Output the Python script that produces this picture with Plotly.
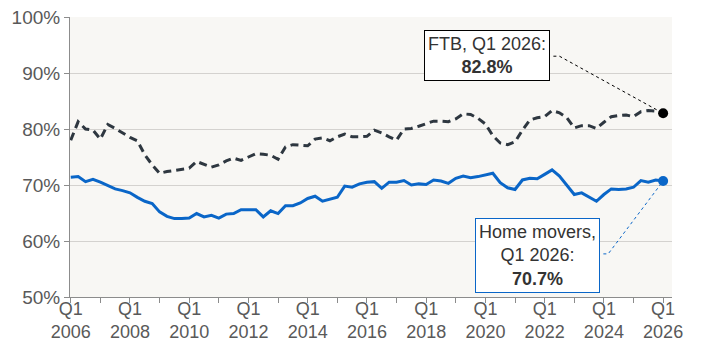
import plotly.graph_objects as go

quarters = list(range(81))  # Q1 2006 .. Q1 2026
tick_pos = list(range(0, 81, 8))
tick_labels = ["Q1<br>%d" % y for y in range(2006, 2027, 2)]

ftb = [78.0, 81.3, 80.0, 79.8, 78.2, 80.8, 80.1, 79.3, 78.5, 77.9,
       75.4, 73.6, 72.1, 72.4, 72.6, 72.7, 73.0, 74.2, 73.7, 73.2,
       73.6, 74.3, 74.8, 74.4, 75.0, 75.6, 75.5, 75.3, 74.6, 76.8,
       77.2, 77.1, 77.0, 78.2, 78.4, 77.9, 78.6, 79.1, 78.6, 78.6,
       78.7, 79.8, 79.3, 78.6, 78.0, 80.0, 80.1, 80.5, 80.9, 81.4,
       81.4, 81.3, 81.8, 82.7, 82.6, 81.9, 80.9, 78.8, 77.5, 77.2,
       77.7, 79.8, 81.6, 82.0, 82.2, 83.3, 82.9, 82.0, 80.2, 80.6,
       80.6, 80.1, 81.2, 82.2, 82.4, 82.5, 82.2, 83.1, 83.3, 83.2,
       82.8]
home_movers = [71.4, 71.5, 70.6, 71.0, 70.5, 69.9, 69.3, 69.0, 68.6, 67.8,
               67.1, 66.7, 65.2, 64.4, 64.0, 64.0, 64.1, 64.9, 64.3, 64.6,
               64.1, 64.8, 64.9, 65.6, 65.6, 65.6, 64.3, 65.4, 64.9, 66.3,
               66.3, 66.8, 67.6, 68.0, 67.1, 67.5, 67.8, 69.8, 69.6, 70.2,
               70.5, 70.6, 69.4, 70.5, 70.5, 70.8, 70.0, 70.2, 70.1, 70.9,
               70.7, 70.3, 71.2, 71.6, 71.3, 71.5, 71.8, 72.1, 70.4, 69.5,
               69.2, 70.9, 71.2, 71.1, 71.9, 72.7, 71.6, 70.0, 68.3, 68.6,
               67.9, 67.1, 68.3, 69.3, 69.2, 69.3, 69.6, 70.8, 70.5, 70.9,
               70.7]

FTB_COLOR = "#2E3740"
HM_COLOR = "#0A66C8"
XR = [-0.1, 81.2]
YR = [50, 100]

def px(x):
    return (x - XR[0]) / (XR[1] - XR[0])

def py(y):
    return (y - YR[0]) / (YR[1] - YR[0])

fig = go.Figure()
fig.add_trace(go.Scatter(x=quarters, y=ftb, mode="lines",
                         line=dict(color=FTB_COLOR, width=3, dash="8px,5px"),
                         showlegend=False))
fig.add_trace(go.Scatter(x=quarters, y=home_movers, mode="lines",
                         line=dict(color=HM_COLOR, width=3),
                         showlegend=False))
fig.add_trace(go.Scatter(x=[quarters[-1]], y=[ftb[-1]], mode="markers",
                         marker=dict(color="black", size=10), showlegend=False))
fig.add_trace(go.Scatter(x=[quarters[-1]], y=[home_movers[-1]], mode="markers",
                         marker=dict(color=HM_COLOR, size=10), showlegend=False))

font_main = dict(family="Liberation Sans, Arial, sans-serif", size=18, color="#333333")

fig.add_annotation(xref="paper", yref="paper", x=0.692, y=0.862,
                   xanchor="center", yanchor="middle",
                   text="FTB, Q1 2026:<br><b>%.1f%%</b>" % ftb[-1],
                   showarrow=False, font=font_main, bgcolor="white",
                   bordercolor="black", borderwidth=1, borderpad=3)
fig.add_annotation(xref="paper", yref="paper", x=0.776, y=0.150,
                   xanchor="center", yanchor="middle",
                   text="Home movers,<br>Q1 2026:<br><b>%.1f%%</b>" % home_movers[-1],
                   showarrow=False, font=font_main, bgcolor="white",
                   bordercolor=HM_COLOR, borderwidth=1, borderpad=3)

fx, fy = px(quarters[-1]), py(ftb[-1])
hx, hy = px(quarters[-1]), py(home_movers[-1])
fig.add_shape(type="path", xref="paper", yref="paper",
              path="M 0.803 0.860 L 0.813 0.860 L %f %f" % (fx, fy),
              line=dict(color="black", width=1, dash="dot"))
fig.add_shape(type="path", xref="paper", yref="paper",
              path="M 0.886 0.154 L 0.894 0.154 L %f %f" % (hx, hy),
              line=dict(color=HM_COLOR, width=1, dash="dot"))

xtickfont = dict(family="Liberation Sans, Arial, sans-serif", size=18, color="#595959")
ytickfont = dict(family="Liberation Sans, Arial, sans-serif", size=19, color="#595959")
fig.update_xaxes(range=XR, tickvals=tick_pos, ticktext=tick_labels,
                 showgrid=False, showline=True, linecolor="#8C8C8C", linewidth=1,
                 ticks="outside", ticklen=5, tickcolor="#8C8C8C", zeroline=False,
                 tickfont=xtickfont, automargin=False, ticklabelstandoff=-10,
                 minor=dict(tickvals=list(range(4, 81, 8)), ticks="outside",
                            ticklen=5, tickcolor="#8C8C8C", showgrid=False))
fig.update_yaxes(range=YR, dtick=10, ticksuffix="%", showgrid=True,
                 gridcolor="#D4D2CF", gridwidth=1, showline=True,
                 linecolor="#8C8C8C", ticks="outside", ticklen=5,
                 tickcolor="#8C8C8C", zeroline=False, tickfont=ytickfont,
                 automargin=False)
fig.update_layout(width=708, height=349, margin=dict(l=70, r=36, t=17, b=52),
                  paper_bgcolor="white", plot_bgcolor="#F8F7F4")
fig.write_html("out.html")
